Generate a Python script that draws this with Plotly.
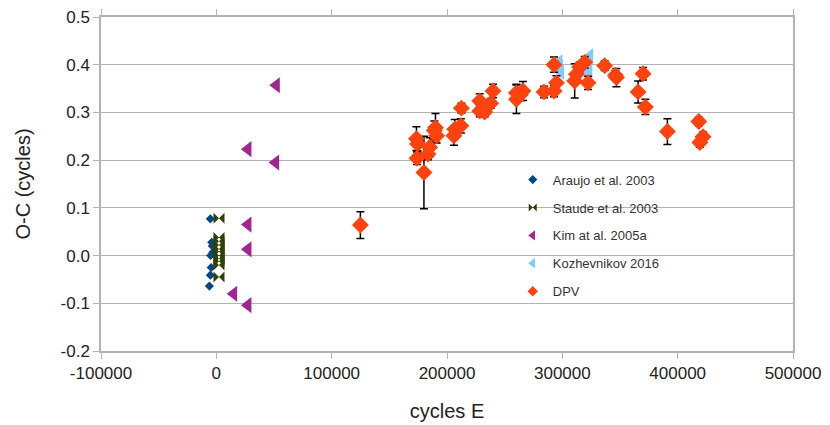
import plotly.graph_objects as go

# ---- data ----
araujo_e = [-5200, -4000, -3500, -3000, -5000, -4500, -5200, -6000]
araujo_oc = [0.077, 0.028, 0.020, 0.007, 0.000, -0.025, -0.041, -0.064]

staude_e = [2300, 2300, 2300, 2300, 2300, 2300, 2300, 2300, 2300, 2300, 2300]
staude_oc = [0.078, 0.038, 0.030, 0.022, 0.014, 0.008, 0.000, -0.006, -0.012, -0.020, -0.045]

kim_e = [52000, 27400, 51400, 27400, 27400, 15000, 27400]
kim_oc = [0.357, 0.223, 0.195, 0.065, 0.013, -0.080, -0.104]

koz_e = [297000, 297500, 298500, 323700, 322500, 323000, 320500]
koz_oc = [0.405, 0.395, 0.385, 0.418, 0.410, 0.383, 0.395]

dpv_e = [124900, 173500, 174500, 174000, 180000, 185000, 183500, 190000, 191000, 189000,
         206700, 206000, 212000, 212500, 228400, 228400, 232700, 237900, 239900, 260200,
         260200, 265900, 263500, 284100, 292800, 294900, 292800, 310700, 312200, 315000,
         319400, 322300, 336700, 346900, 346000, 365700, 370000, 372000, 391100, 418300,
         422000, 419200]
dpv_oc = [0.064, 0.245, 0.234, 0.204, 0.174, 0.227, 0.213, 0.268, 0.251, 0.262,
          0.265, 0.251, 0.272, 0.309, 0.324, 0.303, 0.301, 0.319, 0.345, 0.341,
          0.3275, 0.345, 0.337, 0.343, 0.345, 0.362, 0.400, 0.366, 0.380, 0.395,
          0.405, 0.362, 0.398, 0.373, 0.378, 0.343, 0.381, 0.3115, 0.260, 0.281,
          0.249, 0.237]
dpv_err = [0.028, 0.025, 0.015, 0.013, 0.076, 0.020, 0.012, 0.030, 0.015, 0.020,
           0.020, 0.020, 0.015, 0.010, 0.015, 0.012, 0.010, 0.010, 0.014, 0.018,
           0.030, 0.020, 0.012, 0.012, 0.012, 0.015, 0.016, 0.036, 0.015, 0.010,
           0.012, 0.014, 0.010, 0.019, 0.010, 0.023, 0.013, 0.016, 0.027, 0.009,
           0.010, 0.010]

x_ticks = [-100000, 0, 100000, 200000, 300000, 400000, 500000]
y_ticks = [-0.2, -0.1, 0.0, 0.1, 0.2, 0.3, 0.4, 0.5]

FONT = "Liberation Sans, Arial, sans-serif"
GRID = "#b3b3b3"

series = [
    ("Araujo et al. 2003", araujo_e, araujo_oc, "diamond", 7, 7, "#004586", None),
    ("Staude et al. 2003", staude_e, staude_oc, "bowtie", 11, 8, "#314004", None),
    ("Kim at al. 2005a", kim_e, kim_oc, "triangle-left", 14, 9, "#a0278f", None),
    ("Kozhevnikov 2016", koz_e, koz_oc, "triangle-left", 14, 9, "#83caff", None),
    ("DPV", dpv_e, dpv_oc, "diamond", 13, 8, "#ff420e", dpv_err),
]

fig = go.Figure()
for name, xs, ys, sym, size, lsize, col, err in series:
    kw = {}
    if err is not None:
        kw["error_y"] = dict(type="data", array=err, visible=True,
                             color="black", thickness=1.5, width=4)
    fig.add_trace(go.Scatter(x=xs, y=ys, mode="markers", name=name, showlegend=False,
                             marker=dict(symbol=sym, size=size, color=col), **kw))
for i, (name, xs, ys, sym, size, lsize, col, err) in enumerate(series):
    fig.add_trace(go.Scatter(x=[None], y=[None], mode="markers", name=name,
                             legendgroup="g%d" % i,
                             marker=dict(symbol=sym, size=lsize, color=col)))

fig.update_layout(
    width=822, height=417,
    margin=dict(l=93, r=37, t=9, b=74),
    paper_bgcolor="white", plot_bgcolor="white",
    font=dict(family=FONT, size=17, color="#222222"),
    legend=dict(x=0.595, y=0.558, xanchor="left", yanchor="top",
                bgcolor="rgba(0,0,0,0)", font=dict(size=13, color="#333333"),
                tracegroupgap=8, itemsizing="trace"),
)
fig.update_xaxes(range=[-100000, 500000], tickvals=x_ticks,
                 ticktext=[str(v) for v in x_ticks],
                 showgrid=False, zeroline=False, automargin=False,
                 ticklabeloverflow="allow",
                 showline=True, linecolor=GRID, linewidth=1.5, mirror="all",
                 ticks="outside", ticklen=6, tickcolor=GRID,
                 title=dict(text="cycles E", standoff=22))
fig.update_yaxes(range=[-0.2, 0.5], tickvals=y_ticks,
                 ticktext=["%.1f" % v for v in y_ticks],
                 showgrid=True, gridcolor=GRID, gridwidth=1.2, zeroline=False,
                 automargin=False, ticklabeloverflow="allow",
                 showline=True, linecolor=GRID, linewidth=1.5, mirror=True,
                 ticks="outside", ticklen=6, tickcolor=GRID,
                 title=dict(text="O-C (cycles)", standoff=25))

fig.write_html("out.html")
